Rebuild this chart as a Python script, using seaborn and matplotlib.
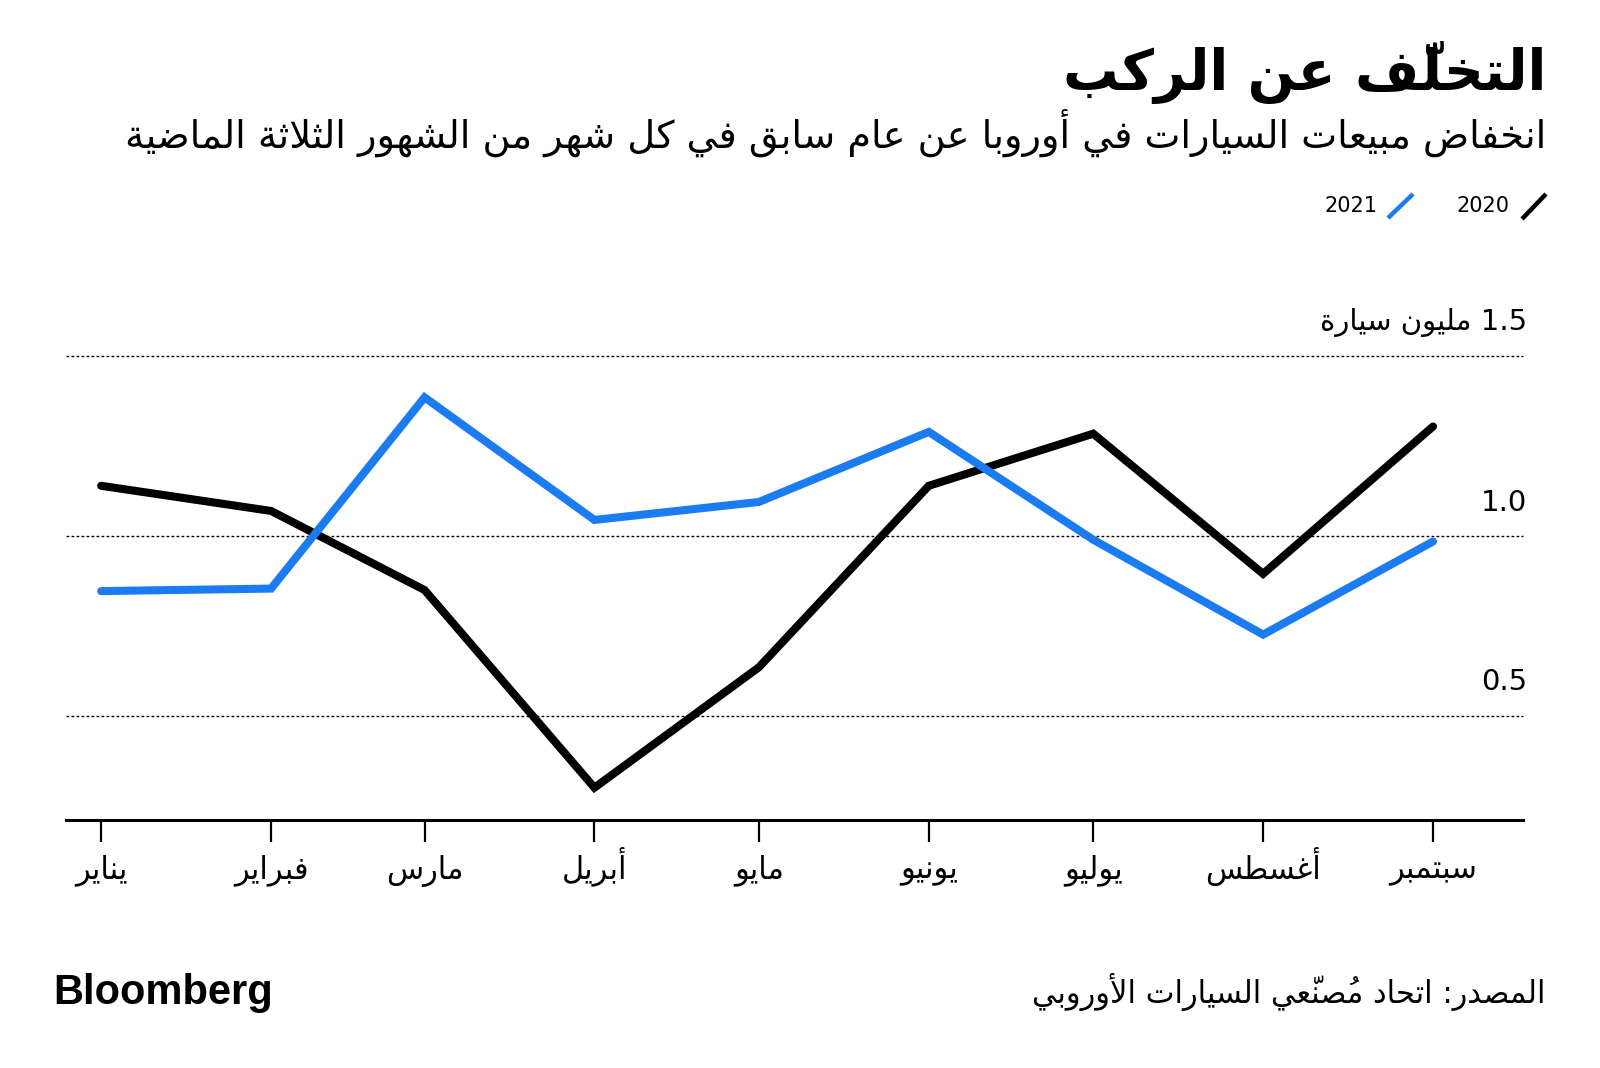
import re
import matplotlib
matplotlib.use("Agg")
import matplotlib.pyplot as plt
from matplotlib import transforms
from matplotlib.lines import Line2D
import pandas as pd
import seaborn as sns

# --- data -------------------------------------------------------------
months = pd.to_datetime(["2021-01-01", "2021-02-01", "2021-03-01", "2021-04-01", "2021-05-01",
                         "2021-06-01", "2021-07-01", "2021-08-01", "2021-09-01"])
month_labels = ["يناير", "فبراير", "مارس", "أبريل", "مايو", "يونيو", "يوليو", "أغسطس", "سبتمبر"]
sales_2020 = [1.14, 1.07, 0.85, 0.30, 0.635, 1.14, 1.285, 0.895, 1.305]
sales_2021 = [0.847, 0.854, 1.386, 1.045, 1.095, 1.29, 0.99, 0.726, 0.985]
y_ticks = [0.5, 1.0, 1.5]
y_tick_labels = ["0.5", "1.0", "1.5 مليون سيارة"]

title = "التخلّف عن الركب"
subtitle = "انخفاض مبيعات السيارات في أوروبا عن عام سابق في كل شهر من الشهور الثلاثة الماضية"
source = "المصدر: اتحاد مُصنّعي السيارات الأوروبي"

BLUE = "#1b7bf0"

# --- minimal arabic shaping: matplotlib draws glyphs left to right, no joining
DUAL = {'ب': 0xFE8F, 'ت': 0xFE95, 'ث': 0xFE99, 'ج': 0xFE9D, 'ح': 0xFEA1, 'خ': 0xFEA5,
        'س': 0xFEB1, 'ش': 0xFEB5, 'ص': 0xFEB9, 'ض': 0xFEBD, 'ط': 0xFEC1, 'ظ': 0xFEC5,
        'ع': 0xFEC9, 'غ': 0xFECD, 'ف': 0xFED1, 'ق': 0xFED5, 'ك': 0xFED9, 'ل': 0xFEDD,
        'م': 0xFEE1, 'ن': 0xFEE5, 'ه': 0xFEE9, 'ي': 0xFEF1, 'ئ': 0xFE89}
RIGHT = {'ا': 0xFE8D, 'أ': 0xFE83, 'إ': 0xFE87, 'آ': 0xFE81, 'ؤ': 0xFE85, 'د': 0xFEA9,
         'ذ': 0xFEAB, 'ر': 0xFEAD, 'ز': 0xFEAF, 'و': 0xFEED, 'ة': 0xFE93, 'ى': 0xFEEF}
LAMALEF = {'ا': 0xFEFB, 'أ': 0xFEF7, 'إ': 0xFEF9, 'آ': 0xFEF5}
MARKS = set("\u064B\u064C\u064D\u064E\u064F\u0650\u0651\u0652")


def ar(text):
    clusters = []
    for ch in text:
        if ch in MARKS and clusters:
            clusters[-1][1] += ch
        else:
            clusters.append([ch, ""])
    out = []
    i, n = 0, len(clusters)
    while i < n:
        ch, mk = clusters[i]
        joined_prev = i > 0 and clusters[i - 1][0] in DUAL
        nxt = clusters[i + 1][0] if i + 1 < n else None
        joins_next = nxt in DUAL or nxt in RIGHT
        if ch == 'ل' and nxt in LAMALEF:
            out.append(mk + clusters[i + 1][1] + chr(LAMALEF[nxt] + joined_prev))
            i += 2
            continue
        if ch in DUAL:
            b = DUAL[ch]
            if joined_prev and joins_next:
                g = b + 3
            elif joined_prev:
                g = b + 1
            elif joins_next:
                g = b + 2
            else:
                g = b
            out.append(mk + chr(g))
        elif ch in RIGHT:
            out.append(mk + chr(RIGHT[ch] + joined_prev))
        else:
            out.append(mk + ch)
        i += 1
    s = "".join(out[::-1])
    return re.sub(r"[0-9A-Za-z.]+", lambda m: m.group()[::-1], s)


df = pd.DataFrame({
    "month": list(months) * 2,
    "sales": sales_2020 + sales_2021,
    "year": ["2020"] * len(months) + ["2021"] * len(months),
})

sns.set_theme(style="white")
plt.rcParams["font.family"] = ["DejaVu Sans"]
plt.rcParams["text.color"] = "black"
plt.rcParams["xtick.color"] = "black"

fig = plt.figure(figsize=(16, 10.68), dpi=100)
W, H = 1600, 1068
ax = fig.add_axes([66 / W, 1 - 820.4 / H, (1523 - 66) / W, (820.4 - 356.4) / H])

sns.lineplot(data=df, x="month", y="sales", hue="year", palette={"2020": "black", "2021": BLUE},
             linewidth=5.8, legend=False, ax=ax)
for line in ax.lines:
    line.set_solid_capstyle("round")
    line.set_solid_joinstyle("miter")

ax.set_xlim(pd.Timestamp("2020-12-25 14:00"), pd.Timestamp("2021-09-17 10:00"))
ax.set_ylim(0.209, 1.5)

for v in y_ticks:
    ax.axhline(v, color="black", lw=1.0, linestyle=(0, (2, 1.6)), clip_on=False, zorder=0)
trans = transforms.offset_copy(ax.get_yaxis_transform(), fig=fig, x=3, y=14, units="points")
for v, lab in zip(y_ticks, y_tick_labels):
    ax.text(1.0, v, ar(lab), transform=trans, ha="right", va="bottom", fontsize=21, color="black")

ax.set_yticks([])
ax.set_ylabel("")
ax.set_xlabel("")
ax.set_xticks(months)
ax.set_xticklabels([ar(m) for m in month_labels], fontsize=22, color="black")
ax.tick_params(axis="x", direction="out", length=16, width=1.6, color="black", pad=26, bottom=True)
for lbl in ax.get_xticklabels():
    lbl.set_verticalalignment("baseline")
for side in ["top", "left", "right"]:
    ax.spines[side].set_visible(False)
ax.spines["bottom"].set_linewidth(2.2)
ax.spines["bottom"].set_color("black")

# titles
fig.text(1546 / W, 1 - 90 / H, ar(title), ha="right", va="baseline", fontsize=40, fontweight="bold")
fig.text(1546 / W, 1 - 148 / H, ar(subtitle), ha="right", va="baseline", fontsize=27.5)

# legend
fig.text(1510 / W, 1 - 206 / H, "2020", ha="right", va="center", fontsize=15)
fig.text(1378 / W, 1 - 206 / H, "2021", ha="right", va="center", fontsize=15)
fig.add_artist(Line2D([1522 / W, 1546 / W], [1 - 219 / H, 1 - 194 / H], color="black", lw=3.2,
                      solid_capstyle="butt"))
fig.add_artist(Line2D([1388 / W, 1413 / W], [1 - 218 / H, 1 - 194 / H], color=BLUE, lw=3.2,
                      solid_capstyle="butt"))

# footer
fig.text(53 / W, 1 - 1004 / H, "Bloomberg", ha="left", va="baseline", fontsize=30,
         fontweight="bold", family="Liberation Sans")
fig.text(1546 / W, 1 - 1003 / H, ar(source), ha="right", va="baseline", fontsize=22)

fig.savefig("out.png", dpi=100, facecolor="white")
